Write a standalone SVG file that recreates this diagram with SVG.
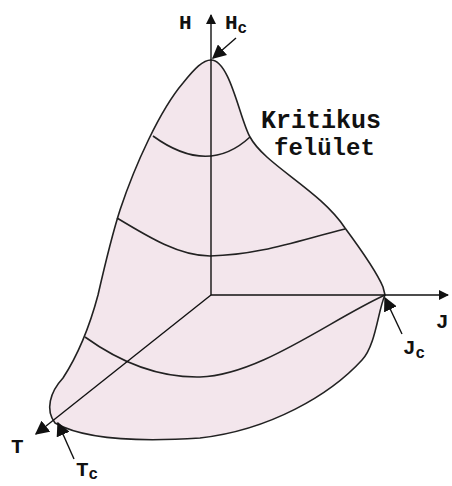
<svg xmlns="http://www.w3.org/2000/svg" width="452" height="486" viewBox="0 0 452 486">
<defs>
<style>
.ln{fill:none;stroke:#222;stroke-width:1.6}
.ax{fill:none;stroke:#111;stroke-width:1.4}
.t{font-family:"Liberation Mono","DejaVu Sans Mono",monospace;font-weight:bold;fill:#111}
</style>
<marker id="ah" viewBox="0 0 10 10" refX="9" refY="5" markerWidth="10" markerHeight="10" markerUnits="userSpaceOnUse" orient="auto"><path d="M0,0 L10,5 L0,10 Z" fill="#111"/></marker>
<marker id="ah2" viewBox="0 0 10 10" refX="9" refY="5" markerWidth="14" markerHeight="14" markerUnits="userSpaceOnUse" orient="auto"><path d="M0,0 L10,5 L0,10 Z" fill="#111"/></marker>
</defs>
<g id="surface">
<path class="ln" style="fill:#f3e6ec" d="M211,60 C230,60 240,120 250,137 C265,165 320,190 345,228 C365,255 378,275 383,287 L385,295 C378,310 376,345 362,360 C330,395 270,430 200,438 C140,442 85,440 55,423 C45,410 50,392 63,378 C78,355 90,325 98,295 C106,260 112,235 120,210 C135,165 160,110 183,83 C195,68 203,60 211,60 Z"/>
<path class="ln" d="M153,136 Q208,176 250,137"/>
<path class="ln" d="M117,218 C150,238 180,256 210,256 C260,255 300,240 345,229"/>
<path class="ln" d="M85,337 C110,355 150,378 200,377 C260,375 330,320 385,295"/>
</g>
<g id="axes">
<line class="ax" x1="211" y1="295" x2="211" y2="15" marker-end="url(#ah)"/>
<line class="ax" x1="211" y1="295" x2="448" y2="295" marker-end="url(#ah)"/>
<line class="ax" x1="211" y1="295" x2="36" y2="434" marker-end="url(#ah2)"/>
</g>
<g id="pointers">
<line class="ax" x1="236" y1="38" x2="213" y2="58" marker-end="url(#ah2)"/>
<line class="ax" x1="402" y1="334" x2="385" y2="298" marker-end="url(#ah2)"/>
<line class="ax" x1="74" y1="459" x2="58" y2="423" marker-end="url(#ah2)"/>
</g>
<g id="labels">
<text class="t" x="179" y="29" font-size="21">H</text>
<text class="t" x="225" y="29" font-size="21">H<tspan font-size="16" dy="4">c</tspan></text>
<text class="t" x="261" y="128" font-size="25">Kritikus</text>
<text class="t" x="274" y="155" font-size="24">felület</text>
<text class="t" x="436" y="328" font-size="21">J</text>
<text class="t" x="403" y="354" font-size="21">J<tspan font-size="16" dy="4">c</tspan></text>
<text class="t" x="11" y="453" font-size="21">T</text>
<text class="t" x="76" y="476" font-size="21">T<tspan font-size="16" dy="3">c</tspan></text>
</g>
</svg>
